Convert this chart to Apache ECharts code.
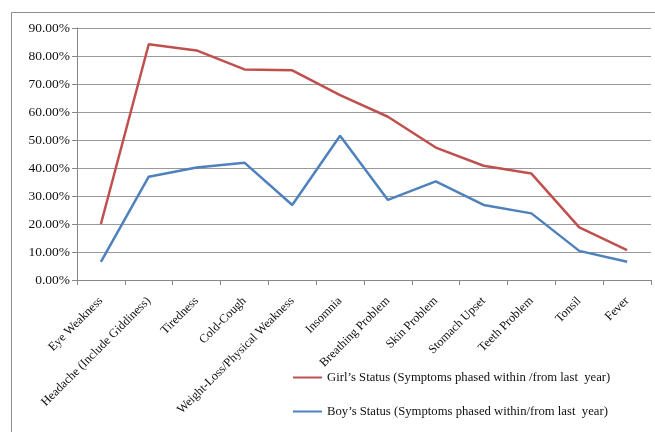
<!DOCTYPE html>
<html>
<head>
<meta charset="utf-8">
<script src="https://cdn.jsdelivr.net/npm/echarts@6/dist/echarts.min.js"></script>
<style>
  html, body { margin: 0; padding: 0; background: #fff; }
  #symptoms { width: 655px; height: 432px; }
</style>
</head>
<body>
<div id="symptoms"></div>
<script>
var categories = ['Eye Weakness', 'Headache (Include Giddiness)', 'Tiredness', 'Cold-Cough',
    'Weight-Loss/Physical Weakness', 'Insomnia', 'Breathing Problem', 'Skin Problem',
    'Stomach Upset', 'Teeth Problem', 'Tonsil', 'Fever'];
var girls = [0.20, 0.842, 0.82, 0.752, 0.749, 0.66, 0.583, 0.473, 0.408, 0.38, 0.188, 0.107];
var boys = [0.065, 0.369, 0.402, 0.419, 0.268, 0.515, 0.286, 0.352, 0.268, 0.238, 0.104, 0.065];
var seriesNames = ['Girl\u2019s Status (Symptoms phased within /from last  year)',
    'Boy\u2019s Status (Symptoms phased within/from last  year)'];
var yTicks = { min: 0, max: 0.9, interval: 0.1 };

var symptoms = function()
{
    var draw_chart = function() {
        var myChart = echarts.init(document.getElementById('symptoms'));
        var serif = '"Liberation Serif", "DejaVu Serif", serif';
        var option = {
            color: ['#c0504d', '#4f81bd'],
            animation: false,
            textStyle: { fontFamily: serif },
            graphic: [{
                type: 'polyline',
                shape: { points: [[11.5, 432], [11.5, 12.5], [655, 12.5]] },
                style: { stroke: '#8c8c8c', lineWidth: 1, fill: null }
            }],
            grid: {
                left: 77,
                right: 4,
                top: 28,
                bottom: 152
            },
            legend: {
                orient: 'vertical',
                left: 288,
                top: 366,
                itemWidth: 29,
                itemHeight: 2,
                itemGap: 21,
                icon: 'rect',
                textStyle: { fontFamily: serif, fontSize: 12.7, color: '#111' },
                data: seriesNames
            },
            xAxis: {
                type: 'category',
                boundaryGap: true,
                data: categories,
                axisLine: { lineStyle: { color: '#888', width: 1 } },
                axisTick: { show: true, length: 5, lineStyle: { color: '#888' } },
                axisLabel: {
                    rotate: 45,
                    interval: 0,
                    margin: 19,
                    fontSize: 12.3,
                    color: '#111',
                    fontFamily: serif
                }
            },
            yAxis: {
                type: 'value',
                min: yTicks.min,
                max: yTicks.max,
                interval: yTicks.interval,
                axisLine: { show: true, lineStyle: { color: '#888' } },
                axisTick: { show: true, length: 5, lineStyle: { color: '#888' } },
                splitLine: { lineStyle: { color: '#9a9a9a', width: 1 } },
                axisLabel: {
                    margin: 7,
                    fontSize: 13.5,
                    color: '#111',
                    fontFamily: serif,
                    formatter: function (v) { return (v * 100).toFixed(2) + '%'; }
                }
            },
            series: [
                {
                    name: seriesNames[0],
                    type: 'line',
                    symbol: 'none',
                    lineStyle: { width: 2.5 },
                    data: girls
                },
                {
                    name: seriesNames[1],
                    type: 'line',
                    symbol: 'none',
                    lineStyle: { width: 2.5 },
                    data: boys
                }
            ]
        };

        myChart.setOption(option);
    }

    return {
        init: function ()
        {
            draw_chart();
        }
    }
}();

symptoms.init();
</script>
</body>
</html>
